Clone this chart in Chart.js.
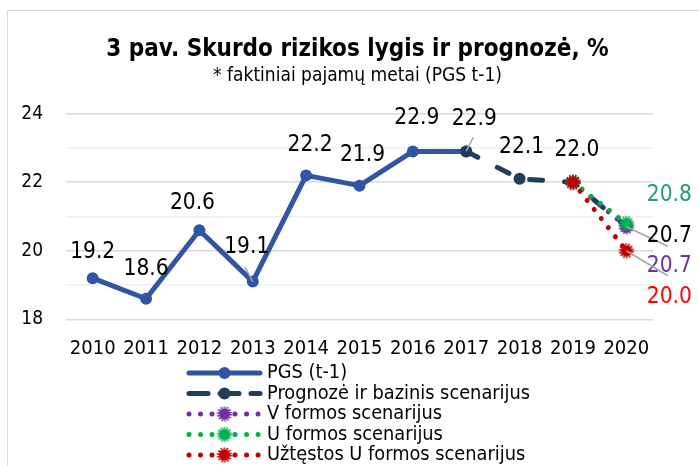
<!DOCTYPE html>
<html>
<head>
<meta charset="utf-8">
<script src="https://cdn.jsdelivr.net/npm/chart.js@4.4.1/dist/chart.umd.min.js"></script>
<style>
  html, body { margin: 0; padding: 0; background: #fff; overflow: hidden; width: 699px; height: 466px; }
  #frame { position: absolute; left: 7px; top: 10px; width: 720px; height: 480px;
           border-left: 1.5px solid #d9d9d9; border-top: 1.5px solid #d9d9d9; }
  #c { position: absolute; left: 8px; top: 10px; }
</style>
</head>
<body>
<div id="frame"></div>
<canvas id="c" width="699" height="466"></canvas>
<script>
// ---- data ----
const years = ['2010','2011','2012','2013','2014','2015','2016','2017','2018','2019','2020'];
const pgs       = [19.2, 18.6, 20.6, 19.1, 22.2, 21.9, 22.9, 22.9, null, null, null];
const forecast  = [null, null, null, null, null, null, null, 22.9, 22.1, 22.0, 20.7];
const vShape    = [null, null, null, null, null, null, null, null, null, 22.0, 20.7];
const uShape    = [null, null, null, null, null, null, null, null, null, 22.0, 20.8];
const delayedU  = [null, null, null, null, null, null, null, null, null, 22.0, 20.0];
const yTickLabels = [18, 20, 22, 24];
const seriesNames = ['PGS (t-1)', 'Prognozė ir bazinis scenarijus', 'V formos scenarijus', 'U formos scenarijus', 'Užtęstos U formos scenarijus'];

// ---- styles ----
const FONT = "'DejaVu Sans Condensed', 'DejaVu Sans', sans-serif";
const C_PGS = '#2f55a3', C_FC = '#203d5c', C_V = '#7030a0', C_U = '#00b050', C_R = '#c00000';

function spiky(color) {
  const cv = document.createElement('canvas');
  cv.width = 18; cv.height = 18;
  const g = cv.getContext('2d');
  g.fillStyle = color;
  g.beginPath(); g.arc(9, 9, 5.5, 0, Math.PI * 2); g.fill();
  g.strokeStyle = color; g.lineWidth = 2.6; g.setLineDash([1.5, 1.3]);
  g.beginPath(); g.arc(9, 9, 6.3, 0, Math.PI * 2); g.stroke();
  return cv;
}

// data label placement (offsets relative to the point)
const labelSpecs = [
  {ds: 0, i: 0, dx: 0,  dy: -26},
  {ds: 0, i: 1, dx: 0,  dy: -30},
  {ds: 0, i: 2, dx: -7, dy: -27},
  {ds: 0, i: 3, dx: -6, dy: -34, lead: [-8, -15]},
  {ds: 0, i: 4, dx: 4,  dy: -30},
  {ds: 0, i: 5, dx: 3,  dy: -31},
  {ds: 0, i: 6, dx: 4,  dy: -33},
  {ds: 1, i: 7, dx: 8,  dy: -32, lead: [7, -14]},
  {ds: 1, i: 8, dx: 2,  dy: -32},
  {ds: 1, i: 9, dx: 4,  dy: -32},
  {ds: 1, i: 10, dx: 43, dy: 9, lead: [41.5, 19.5]},
  {ds: 3, i: 10, dx: 43, dy: -28, color: '#1f9e74'},
  {ds: 2, i: 10, dx: 43, dy: 39, color: C_V},
  {ds: 4, i: 10, dx: 43, dy: 46, color: '#ff0000', lead: [41.5, 25]},
];

const labelPlugin = {
  id: 'valueLabels',
  afterDatasetsDraw(chart) {
    const ctx = chart.ctx;
    ctx.save();
    ctx.font = '22.5px ' + FONT;
    ctx.textAlign = 'center';
    ctx.textBaseline = 'middle';
    labelSpecs.forEach(s => {
      const el = chart.getDatasetMeta(s.ds).data[s.i];
      const v = chart.data.datasets[s.ds].data[s.i];
      if (s.lead) {
        ctx.strokeStyle = '#a6a6a6'; ctx.lineWidth = 1.5;
        ctx.beginPath(); ctx.moveTo(el.x, el.y); ctx.lineTo(el.x + s.lead[0], el.y + s.lead[1]); ctx.stroke();
      }
      ctx.fillStyle = s.color || '#000';
      ctx.fillText(v.toFixed(1), el.x + s.dx, el.y + s.dy);
    });
    ctx.restore();
  }
};

const legendPlugin = {
  id: 'stackLegend',
  afterDraw(chart) {
    const ctx = chart.ctx;
    const x0 = 181, x1 = 252, xm = (x0 + x1) / 2, tx = 259;
    const y0 = 363, step = 20.5;
    chart.data.datasets.forEach((d, k) => {
      const y = y0 + k * step;
      ctx.save();
      ctx.strokeStyle = d.borderColor; ctx.lineWidth = d.borderWidth; ctx.lineCap = 'round';
      ctx.setLineDash(k === 0 ? [] : (k === 1 ? [19, 12] : [0.01, 11.5]));
      ctx.beginPath(); ctx.moveTo(x0, y); ctx.lineTo(x1, y); ctx.stroke();
      ctx.setLineDash([]);
      if (typeof d.pointStyle === 'object') {
        ctx.drawImage(d.pointStyle, xm - 9, y - 9);
      } else {
        ctx.fillStyle = d.pointBackgroundColor;
        ctx.beginPath(); ctx.arc(xm, y, 6, 0, Math.PI * 2); ctx.fill();
      }
      ctx.fillStyle = '#000';
      ctx.font = '19.8px ' + FONT;
      ctx.textAlign = 'left'; ctx.textBaseline = 'middle';
      ctx.fillText(d.label, tx, y);
      ctx.restore();
    });
  }
};

new Chart(document.getElementById('c'), {
  type: 'line',
  data: {
    labels: years,
    datasets: [
      {label: seriesNames[0], data: pgs, borderColor: C_PGS, backgroundColor: C_PGS, pointBackgroundColor: C_PGS,
       borderWidth: 5, pointRadius: 6, pointBorderWidth: 0, tension: 0, order: 5, borderCapStyle: 'round', borderJoinStyle: 'round'},
      {label: seriesNames[1], data: forecast, borderColor: C_FC, backgroundColor: C_FC, pointBackgroundColor: C_FC,
       borderWidth: 5, borderDash: [13, 22], borderCapStyle: 'round', pointRadius: 6, pointBorderWidth: 0, order: 4},
      {label: seriesNames[2], data: vShape, borderColor: C_V, backgroundColor: C_V, pointStyle: spiky(C_V),
       borderWidth: 5, borderDash: [0.01, 11.5], borderCapStyle: 'round', order: 3},
      {label: seriesNames[3], data: uShape, borderColor: C_U, backgroundColor: C_U, pointStyle: spiky(C_U),
       borderWidth: 5, borderDash: [0.01, 11.5], borderCapStyle: 'round', order: 2},
      {label: seriesNames[4], data: delayedU, borderColor: C_R, backgroundColor: C_R, pointStyle: spiky(C_R),
       borderWidth: 5, borderDash: [0.01, 11.5], borderCapStyle: 'round', order: 1},
    ]
  },
  options: {
    responsive: false,
    animation: false,
    layout: { padding: { left: 0, right: 0, top: 0, bottom: 116.7 } },
    plugins: {
      legend: { display: false },
      tooltip: { enabled: false },
      title: { display: true, text: '3 pav. Skurdo rizikos lygis ir prognozė, %', color: '#000',
               font: { family: FONT, size: 24, weight: 'bold', lineHeight: 1.2 }, padding: { top: 25, bottom: 1 } },
      subtitle: { display: true, text: '* faktiniai pajamų metai (PGS t-1)', color: '#000',
               font: { family: FONT, size: 19, lineHeight: 1.2 }, padding: { top: 0, bottom: 26.1 } }
    },
    scales: {
      x: {
        offset: true,
        grid: { display: false, drawTicks: false }, border: { display: false },
        ticks: { color: '#000', font: { family: FONT, size: 20 }, padding: 17, maxRotation: 0, autoSkip: false },
        afterFit(s) { s.height = 40; }
      },
      y: {
        min: 18, max: 24,
        border: { display: false },
        grid: { drawTicks: false, lineWidth: 1.5,
                color: c => (yTickLabels.includes(c.tick.value) ? '#d9d9d9' : '#f0f0f0') },
        ticks: { stepSize: 1, color: '#000', font: { family: FONT, size: 19 }, padding: 23,
                 callback: v => (yTickLabels.includes(v) ? String(v) : '') },
        afterFit(s) { s.width = 58; }
      },
      yRight: {
        position: 'right', min: 0, max: 1,
        grid: { display: false, drawTicks: false }, border: { display: false },
        ticks: { display: false },
        afterFit(s) { s.width = 54; }
      }
    }
  },
  plugins: [labelPlugin, legendPlugin]
});
</script>
</body>
</html>
